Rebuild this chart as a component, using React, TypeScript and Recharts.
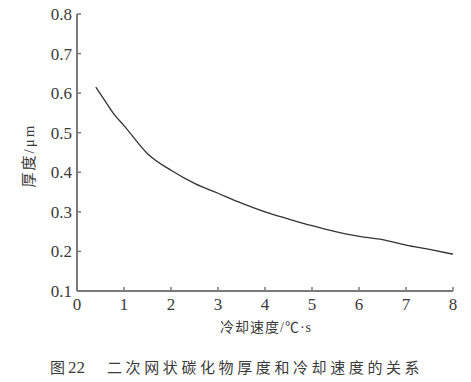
import React from 'react';
import { LineChart, Line, XAxis, YAxis } from 'recharts';

const coolingRate = [0.4, 0.6, 0.8, 1.0, 1.5, 2.0, 2.5, 3.0, 3.5, 4.0, 4.5, 5.0, 5.5, 6.0, 6.5, 7.0, 7.5, 8.0];
const thickness = [0.615, 0.58, 0.545, 0.518, 0.447, 0.405, 0.372, 0.347, 0.322, 0.3, 0.282, 0.265, 0.25, 0.238, 0.23, 0.216, 0.205, 0.193];
const xTicks = [0, 1, 2, 3, 4, 5, 6, 7, 8];
const yTicks = [0.1, 0.2, 0.3, 0.4, 0.5, 0.6, 0.7, 0.8];

const data = coolingRate.map((x, i) => ({ x, y: thickness[i] }));

const AXIS = '#7a7a7a';
const TEXT = '#3a3a3a';
const SERIF = 'Liberation Serif, DejaVu Serif, serif';
const CJK = 'Liberation Serif, Noto Sans CJK SC, sans-serif';

const XTick = (props: any) => {
  const { x, y, payload } = props;
  return (
    <g>
      {payload.value !== 0 && (
        <line x1={x} x2={x} y1={y} y2={y - 4} stroke={AXIS} strokeWidth={1.5} />
      )}
      <text x={x} y={y + 19} textAnchor="middle" style={{ fontFamily: SERIF }} fontSize={17} fill={TEXT}>
        {payload.value}
      </text>
    </g>
  );
};

const YTick = (props: any) => {
  const { x, y, payload } = props;
  return (
    <g>
      {payload.value !== 0.1 && (
        <line x1={x} x2={x + 4} y1={y} y2={y} stroke={AXIS} strokeWidth={1.5} />
      )}
      <text x={x - 5} y={y} dy="0.35em" textAnchor="end" style={{ fontFamily: SERIF }} fontSize={17} fill={TEXT}>
        {Number(payload.value).toFixed(1)}
      </text>
    </g>
  );
};

const XLabel = (props: any) => {
  const vb = props.viewBox;
  return (
    <text x={vb.x + vb.width / 2 + 1} y={vb.y + 41} textAnchor="middle" style={{ fontFamily: CJK }} fontSize={14} letterSpacing={1} fill={TEXT}>
      冷却速度/℃·s
    </text>
  );
};

const YLabel = (props: any) => {
  const vb = props.viewBox;
  const cx = vb.x + 11.5;
  const cy = vb.y + vb.height / 2 + 3;
  return (
    <text x={cx} y={cy} transform={`rotate(-90 ${cx} ${cy})`} textAnchor="middle" dominantBaseline="central" style={{ fontFamily: CJK }} fontSize={15} letterSpacing={2} fill={TEXT}>
      厚度/μm
    </text>
  );
};

export default function App() {
  return (
    <div style={{ position: 'absolute', left: 0, top: 0, width: 471, height: 382, background: '#fff' }}>
      <LineChart width={471} height={382} data={data} margin={{ top: 14, right: 18, left: 17, bottom: 41 }}>
        <XAxis
          dataKey="x"
          type="number"
          domain={[0, 8]}
          ticks={xTicks}
          height={50}
          tickSize={0}
          tickMargin={0}
          tickLine={false}
          tick={<XTick />}
          axisLine={{ stroke: AXIS, strokeWidth: 2 }}
          label={<XLabel />}
        />
        <YAxis
          type="number"
          domain={[0.1, 0.8]}
          ticks={yTicks}
          width={60}
          tickSize={0}
          tickMargin={0}
          tickLine={false}
          tick={<YTick />}
          axisLine={{ stroke: AXIS, strokeWidth: 2 }}
          label={<YLabel />}
          allowDataOverflow
        />
        <Line dataKey="y" type="monotone" stroke="#333" strokeWidth={1.3} dot={false} isAnimationActive={false} />
      </LineChart>
      <div style={{ position: 'absolute', top: 357, left: 50, whiteSpace: 'nowrap', color: TEXT, fontSize: 15, fontFamily: 'Noto Sans CJK SC, sans-serif', lineHeight: '20px' }}>
        <span>图</span>
        <span style={{ fontFamily: SERIF, fontSize: 17, marginLeft: 3 }}>22</span>
        <span style={{ marginLeft: 22, letterSpacing: 3.6 }}>二次网状碳化物厚度和冷却速度的关系</span>
      </div>
    </div>
  );
}
